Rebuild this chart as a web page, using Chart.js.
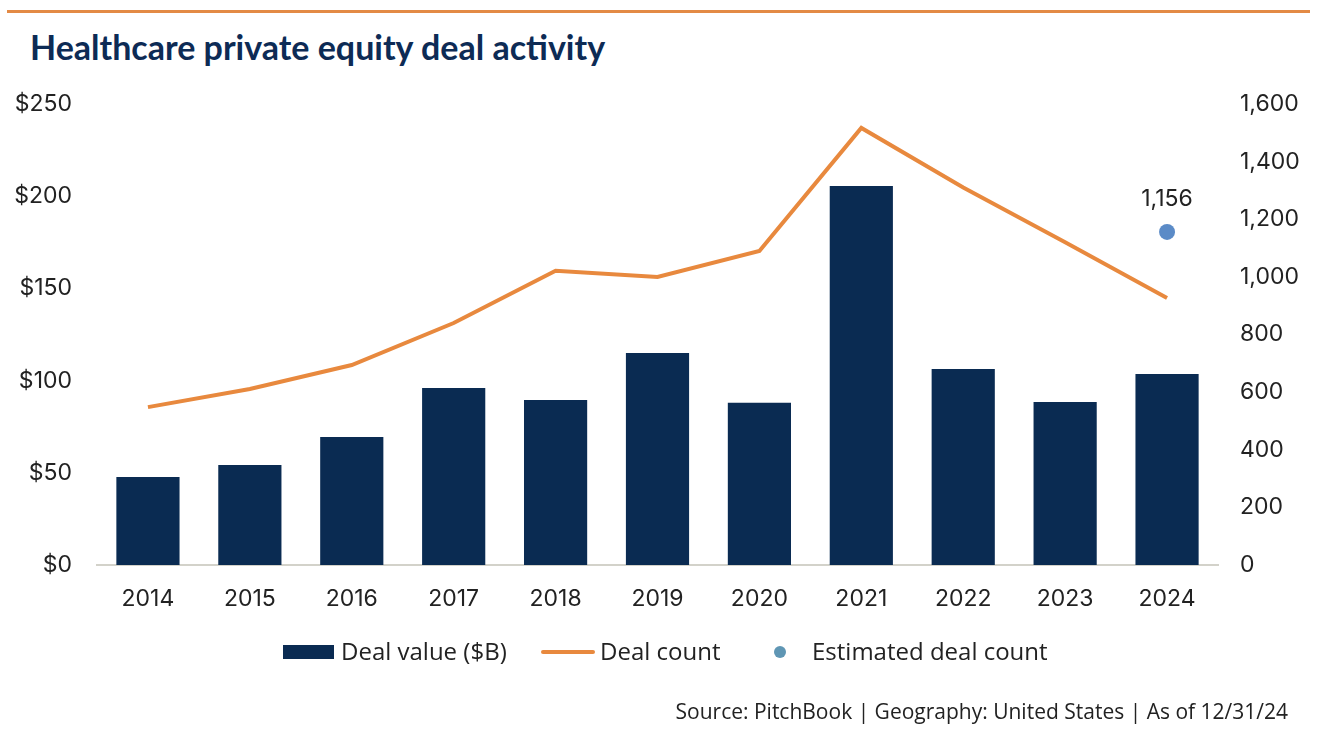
<!DOCTYPE html>
<html>
<head>
<meta charset="utf-8">
<script src="https://cdn.jsdelivr.net/npm/chart.js@4.4.1/dist/chart.umd.min.js"></script>
<style>
  html, body { margin: 0; padding: 0; background: #fff; }
  body { width: 1320px; height: 733px; position: relative; overflow: hidden; font-family: "Open Sans", sans-serif; }
  .regla { position: absolute; left: 7px; top: 10px; width: 1303px; height: 3px; background: #e38a45; }
  .titulo { position: absolute; left: 30px; top: 26px; font-family: Lato, sans-serif; font-weight: 700; font-size: 34px; color: #0d2b55; }
  #grafica { position: absolute; left: 0; top: 0; }
  .ley-item { position: absolute; line-height: 34px; font-size: 24px; color: #222; }
  .sw-barra { position: absolute; left: 283px; top: 645px; width: 51px; height: 14px; background: #0a2b52; }
  .sw-linea { position: absolute; left: 541px; top: 650px; width: 54px; height: 4px; background: #e8893e; border-radius: 2px; }
  .sw-punto { position: absolute; left: 774px; top: 646px; width: 12px; height: 12px; border-radius: 50%; background: #5f96b4; }
  .fuente { position: absolute; right: 32px; top: 697px; font-size: 21px; color: #222; }
</style>
</head>
<body>
  <div class="regla"></div>
  <div class="titulo">Healthcare private equity deal activity</div>
  <canvas id="grafica" width="1320" height="733"></canvas>

  <!-- Leyenda -->
  <div class="sw-barra"></div>
  <div class="sw-linea"></div>
  <div class="sw-punto"></div>
  <div class="ley-item" style="left:341px;top:634px;">Deal value ($B)</div>
  <div class="ley-item" style="left:600px;top:634px;">Deal count</div>
  <div class="ley-item" style="left:812px;top:634px;">Estimated deal count</div>

  <div class="fuente">Source: PitchBook | Geography: United States | As of 12/31/24</div>

<script>
// ——— Datos ———
var years = ['2014', '2015', '2016', '2017', '2018', '2019', '2020', '2021', '2022', '2023', '2024'];
var dealValue = [47.7, 54.2, 69.4, 96, 89.5, 115, 88, 205.5, 106.3, 88.4, 103.6];
var dealCount = [548, 611, 694, 840, 1021, 1000, 1090, 1517, 1310, 1120, 927];
var estimatedCount = [null, null, null, null, null, null, null, null, null, null, 1156];
var leftTicks = [0, 50, 100, 150, 200, 250];
var rightTicks = [0, 200, 400, 600, 800, 1000, 1200, 1400, 1600];

var fuenteTicks = { family: 'Inter, sans-serif', size: 23 };

// Etiqueta "1,156" sobre el punto estimado
var etiquetaEstimado = {
  id: 'etiquetaEstimado',
  afterDatasetsDraw: function(chart) {
    var meta = chart.getDatasetMeta(2);
    var ctx = chart.ctx;
    ctx.save();
    ctx.font = '23px Inter, sans-serif';
    ctx.fillStyle = '#222';
    ctx.textAlign = 'center';
    ctx.textBaseline = 'alphabetic';
    meta.data.forEach(function(pt, i) {
      var v = estimatedCount[i];
      if (v == null) return;
      ctx.fillText(v.toLocaleString('en-US'), pt.x, pt.y - 26);
    });
    ctx.restore();
  }
};

new Chart(document.getElementById('grafica'), {
  data: {
    labels: years,
    datasets: [
      {
        type: 'line',
        label: 'Deal count',
        data: dealCount,
        yAxisID: 'y1',
        borderColor: '#e8893e',
        borderWidth: 4,
        pointRadius: 0,
        tension: 0,
        order: 2
      },
      {
        type: 'bar',
        label: 'Deal value ($B)',
        data: dealValue,
        yAxisID: 'y',
        backgroundColor: '#0a2b52',
        barPercentage: 0.62,
        categoryPercentage: 1,
        order: 3
      },
      {
        type: 'line',
        label: 'Estimated deal count',
        data: estimatedCount,
        yAxisID: 'y1',
        showLine: false,
        pointRadius: 8,
        pointBackgroundColor: '#5b8bc7',
        pointBorderWidth: 0,
        order: 1
      }
    ]
  },
  options: {
    responsive: false,
    animation: false,
    layout: { padding: { top: 104, left: 0, right: 0, bottom: 118 } },
    plugins: {
      legend: { display: false },
      tooltip: { enabled: false }
    },
    scales: {
      x: {
        grid: { display: false, drawTicks: false },
        border: { color: '#d3d2ca', width: 2 },
        ticks: { color: '#222', font: fuenteTicks, padding: 20 },
        afterFit: function(s) { s.height = 50; }
      },
      y: {
        position: 'left',
        min: 0, max: 250,
        grid: { display: false, drawTicks: false },
        border: { display: false },
        afterBuildTicks: function(s) { s.ticks = leftTicks.map(function(v) { return { value: v }; }); },
        ticks: {
          color: '#222', font: fuenteTicks, padding: 25,
          callback: function(v) { return '$' + v; }
        },
        afterFit: function(s) { s.width = 97; }
      },
      y1: {
        position: 'right',
        min: 0, max: 1600,
        grid: { display: false, drawTicks: false },
        border: { display: false },
        afterBuildTicks: function(s) { s.ticks = rightTicks.map(function(v) { return { value: v }; }); },
        ticks: {
          color: '#222', font: fuenteTicks, padding: 22,
          callback: function(v) { return v.toLocaleString('en-US'); }
        },
        afterFit: function(s) { s.width = 102; }
      }
    }
  },
  plugins: [etiquetaEstimado]
});
</script>
</body>
</html>
